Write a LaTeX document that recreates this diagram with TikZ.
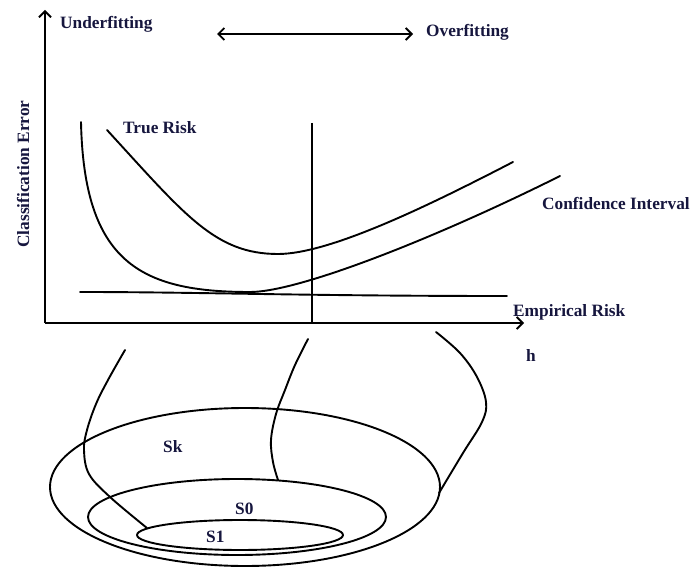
\documentclass[tikz,border=0pt]{standalone}
\usepackage{fontspec}
\setmainfont{Liberation Serif}
\usetikzlibrary{arrows.meta}
\definecolor{txt}{RGB}{22,22,62}
\tikzset{
  lbl/.style={anchor=base west, inner sep=0pt, text=txt, font=\fontsize{17.3}{20}\selectfont\bfseries},
  curve/.style={line width=1.9pt, line cap=round, line join=round},
  axis/.style={line width=2.4pt},
  chev/.style={-{Straight Barb[length=6pt,width=12pt,line width=1.8pt]}},
}
\begin{document}
\begin{tikzpicture}[x=1pt,y=-1pt]
\useasboundingbox (0,0) rectangle (698,569);
% axes
\coordinate (O) at (45,323);
\coordinate (ytop) at (45,10);
\coordinate (xend) at (524,323);
\draw[axis,chev] (O) -- (ytop);
\draw[axis,chev] (O) -- (xend);
% double arrow
\coordinate (dl) at (217,34);
\coordinate (dr) at (413,34);
\draw[line width=2pt,{Straight Barb[length=6pt,width=12pt,line width=1.8pt]}-{Straight Barb[length=6pt,width=12pt,line width=1.8pt]}] (dl) -- (dr);
% vertical line
\coordinate (vt) at (312,123);
\coordinate (vb) at (312,323);
\draw[axis] (vt) -- (vb);
% labels
\node[lbl] (under) at (60,29) {Underfitting};
\node[lbl] (over) at (426,37) {Overfitting};
\node[lbl] (tr) at (123,134) {True Risk};
\node[lbl] (ci) at (542,210) {Confidence Interval};
\node[lbl] (er) at (513,316) {Empirical Risk};
\node[lbl] (h) at (526,361) {h};
\node[lbl] (sk) at (163,452) {Sk};
\node[lbl] (s0) at (235,514) {S0};
\node[lbl] (s1) at (206,542) {S1};
\node[anchor=base, inner sep=0pt, text=txt, font=\fontsize{17.3}{20}\selectfont\bfseries, rotate=90] (ce) at (29,174) {Classification Error};
% confidence interval curve
\coordinate (ci0) at (81,122);
\coordinate (cim) at (250,292);
\coordinate (ci1) at (560,176);
\draw[curve] (ci0) .. controls (84,262) and (140,292) .. (cim)
                   .. controls (300,292) and (440,236) .. (ci1);
% true risk curve
\coordinate (tr0) at (107,130);
\coordinate (trm) at (278,254);
\coordinate (tr1) at (513,162);
\draw[curve] (tr0) .. controls (185,215) and (215,254) .. (trm)
                   .. controls (330,254) and (430,205) .. (tr1);
% empirical risk
\coordinate (er0) at (80,292);
\coordinate (er1) at (507,296);
\draw[curve] (er0) .. controls (200,292) and (300,296) .. (er1);
% ellipses
\coordinate (Ek) at (245,487);
\coordinate (E0) at (237,517);
\coordinate (E1) at (240,535);
\draw[curve] (Ek) ellipse [x radius=195, y radius=79];
\draw[curve] (E0) ellipse [x radius=149, y radius=38];
\draw[curve] (E1) ellipse [x radius=103, y radius=15];
% connectors
\coordinate (a1) at (125,350);
\coordinate (a2) at (147,528);
\coordinate (b1) at (308,339);
\coordinate (b2) at (278,480);
\coordinate (c1) at (436,332);
\coordinate (c2) at (439,493);
\draw[curve] plot[smooth, tension=0.6] coordinates {(a1) (108,380) (96,404) (87,430) (84,450) (89,474) (110,497) (a2)};
\draw[curve] plot[smooth, tension=0.6] coordinates {(b1) (295,365) (285,390) (276,414) (271,440) (273,462) (b2)};
\draw[curve] plot[smooth, tension=0.6] coordinates {(c1) (460,353) (477,377) (486,402) (482,422) (463,453) (c2)};
\end{tikzpicture}
\end{document}
